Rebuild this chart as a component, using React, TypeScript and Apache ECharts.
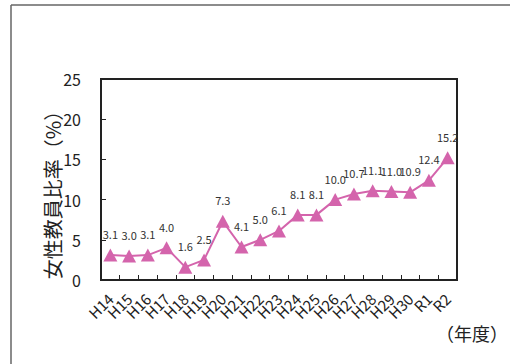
import React, { useEffect, useRef } from "react";
import * as echarts from "echarts";

// 年度ごとの女性教員比率(%)
const years = [
  "H14", "H15", "H16", "H17", "H18", "H19", "H20", "H21", "H22", "H23",
  "H24", "H25", "H26", "H27", "H28", "H29", "H30", "R1", "R2",
];
const ratios = [
  3.1, 3.0, 3.1, 4.0, 1.6, 2.5, 7.3, 4.1, 5.0, 6.1,
  8.1, 8.1, 10.0, 10.7, 11.1, 11.0, 10.9, 12.4, 15.2,
];
const yTitle = "女性教員比率（%）";
const xUnit = "（年度）";

const FONT = "'Noto Sans CJK JP', 'Noto Sans', sans-serif";
const PINK = "#D464AC";

export default function App() {
  const ref = useRef<HTMLDivElement>(null);

  useEffect(() => {
    if (!ref.current) return;
    const chart = echarts.init(ref.current, null, { renderer: "svg" });
    chart.setOption({
      animation: false,
      backgroundColor: "#ffffff",
      textStyle: { fontFamily: FONT },
      grid: {
        left: 101,
        top: 79,
        right: 53,
        bottom: 84,
        show: true,
        borderColor: "#222",
        borderWidth: 2,
        backgroundColor: "transparent",
      },
      xAxis: {
        type: "category",
        data: years,
        boundaryGap: true,
        axisLine: { show: true, lineStyle: { color: "#222", width: 2 } },
        axisTick: {
          show: true,
          inside: true,
          length: 5,
          alignWithLabel: false,
          lineStyle: { color: "#222", width: 1 },
        },
        axisLabel: {
          rotate: 45,
          margin: 16,
          fontSize: 15,
          color: "#222",
          fontFamily: FONT,
          interval: 0,
        },
        splitLine: { show: false },
      },
      yAxis: {
        type: "value",
        min: 0,
        max: 25,
        interval: 5,
        axisLine: { show: true, lineStyle: { color: "#222", width: 2 } },
        axisTick: {
          show: true,
          inside: true,
          length: 5,
          lineStyle: { color: "#222", width: 1 },
        },
        axisLabel: {
          margin: 20,
          fontSize: 16,
          color: "#222",
          fontFamily: FONT,
        },
        splitLine: { show: false },
      },
      series: [
        {
          type: "line",
          data: ratios,
          symbol: "triangle",
          symbolSize: [14, 13],
          lineStyle: { color: PINK, width: 2 },
          itemStyle: { color: PINK },
          label: {
            show: true,
            position: "top",
            distance: 9,
            fontSize: 11,
            color: "#333",
            fontFamily: FONT,
            formatter: (p: any) => Number(p.value).toFixed(1),
          },
        },
      ],
      graphic: [
        {
          type: "line",
          shape: { x1: 11, y1: 5, x2: 510, y2: 5 },
          style: { stroke: "#666", lineWidth: 1.5 },
          silent: true,
        },
        {
          type: "line",
          shape: { x1: 11, y1: 5, x2: 11, y2: 364 },
          style: { stroke: "#666", lineWidth: 1.5 },
          silent: true,
        },
        {
          type: "text",
          x: 52,
          y: 190,
          rotation: Math.PI / 2,
          style: {
            text: yTitle,
            fontSize: 20,
            fill: "#222",
            fontFamily: FONT,
            textAlign: "center",
            textVerticalAlign: "middle",
          },
        },
        {
          type: "text",
          x: 472,
          y: 333,
          style: {
            text: xUnit,
            fontSize: 18,
            fill: "#222",
            fontFamily: FONT,
            textAlign: "center",
            textVerticalAlign: "middle",
          },
        },
      ],
    });
    return () => chart.dispose();
  }, []);

  return (
    <div
      ref={ref}
      style={{ position: "fixed", left: 0, top: 0, width: 510, height: 364 }}
    />
  );
}
